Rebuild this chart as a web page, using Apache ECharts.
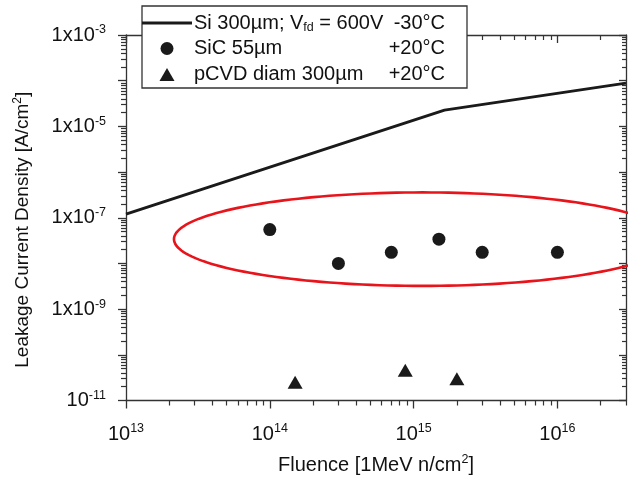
<!DOCTYPE html>
<html><head><meta charset="utf-8">
<script src="https://cdn.jsdelivr.net/npm/echarts@6/dist/echarts.min.js"></script>
<style>html,body{margin:0;padding:0;background:#fff}#c{width:628px;height:480px}</style>
</head><body><div id="c"></div>
<script>
// ---- data ----
const siFluence = [1e13, 1.64e15, 3e16];
const siCurrent = [1.2e-7, 2.27e-5, 8.85e-5];
const sicFluence = [1e14, 3e14, 7e14, 1.5e15, 3e15, 1e16];
const sicCurrent = [5.5e-8, 1.0e-8, 1.75e-8, 3.4e-8, 1.75e-8, 1.75e-8];
const diamFluence = [1.5e14, 8.75e14, 2e15];
const diamCurrent = [2.5e-11, 4.6e-11, 3.0e-11];
const seriesNames = ['Si 300µm; Vfd = 600V -30°C', 'SiC 55µm +20°C', 'pCVD diam 300µm +20°C'];
const xMajorTicks = [1e13, 1e14, 1e15, 1e16];
const xTickLabels = ['10{s|13}', '10{s|14}', '10{s|15}', '10{s|16}'];
const yMajorTicks = [1e-11, 1e-10, 1e-9, 1e-8, 1e-7, 1e-6, 1e-5, 1e-4, 1e-3];
const yLabelTicks = [1e-11, 1e-9, 1e-7, 1e-5, 1e-3];
const yTickLabels = ['10{s|-11}', '1x10{s|-9}', '1x10{s|-7}', '1x10{s|-5}', '1x10{s|-3}'];
const minorMultipliers = [2, 3, 4, 5, 6, 7, 8, 9];
// annotation ellipse (centre in data units, half-axes in decades)
const ellipseCenter = [1.155e15, 3.4e-8];
const ellipseHalfDecades = [1.729, 1.023];

const FONT = "'Liberation Sans', Arial, sans-serif";
const AX = '#333';
const FS = 20;

function minorValues(fromExp, toExp, maxVal) {
  const out = [];
  for (let e = fromExp; e < toExp; e++) {
    minorMultipliers.forEach(m => { const v = Number(m + 'e' + e); if (v <= maxVal) out.push(v); });
  }
  return out;
}
const xMinor = minorValues(13, 17, 3e16);
const yMinor = minorValues(-11, -3, 1e-3);

function labelFor(v, ticks, labels) {
  const e = Math.round(Math.log10(v));
  for (let i = 0; i < ticks.length; i++) if (Math.round(Math.log10(ticks[i])) === e) return labels[i];
  return '';
}

const supRich = { s: { fontSize: 12.5, fontFamily: FONT, color: '#111', verticalAlign: 'top', lineHeight: 12 } };

const baseX = { type: 'log', logBase: 10, min: 1e13, max: 3e16, gridIndex: 0, splitLine: { show: false } };
const baseY = { type: 'log', logBase: 10, min: 1e-11, max: 1e-3, gridIndex: 0, splitLine: { show: false } };

const chart = echarts.init(document.getElementById('c'), null, { renderer: 'canvas' });
chart.setOption({
  animation: false,
  backgroundColor: '#fff',
  grid: { left: 126, right: 2, top: 35, bottom: 74, containLabel: false },
  xAxis: [
    Object.assign({}, baseX, {
      position: 'bottom',
      axisLine: { show: true, lineStyle: { color: AX, width: 1.3 } },
      axisTick: { show: true, inside: false, length: 8, customValues: xMajorTicks, lineStyle: { color: AX, width: 1.3 } },
      axisLabel: { show: true, customValues: xMajorTicks, margin: 22, fontSize: FS, lineHeight: 23, fontFamily: FONT, color: '#111',
        formatter: v => labelFor(v, xMajorTicks, xTickLabels), rich: supRich },
      name: '{n|Fluence [1MeV n/cm}{s|2}{n|]}', nameLocation: 'middle', nameGap: 53,
      nameTextStyle: { rich: { n: { fontSize: FS, fontFamily: FONT, color: '#111', lineHeight: 23 }, s: supRich.s } }
    }),
    Object.assign({}, baseX, {
      position: 'top',
      axisLine: { show: true, lineStyle: { color: AX, width: 1.3 } },
      axisTick: { show: true, inside: true, length: 8, customValues: xMajorTicks, lineStyle: { color: AX, width: 1.3 } },
      axisLabel: { show: false }
    }),
    Object.assign({}, baseX, {
      position: 'bottom',
      axisLine: { show: false },
      axisTick: { show: true, inside: false, length: 5, customValues: xMinor, lineStyle: { color: AX, width: 1.2 } },
      axisLabel: { show: false }
    }),
    Object.assign({}, baseX, {
      position: 'top',
      axisLine: { show: false },
      axisTick: { show: true, inside: true, length: 5, customValues: xMinor, lineStyle: { color: AX, width: 1.2 } },
      axisLabel: { show: false }
    })
  ],
  yAxis: [
    Object.assign({}, baseY, {
      position: 'left',
      axisLine: { show: true, lineStyle: { color: AX, width: 1.3 } },
      axisTick: { show: true, inside: false, length: 8, customValues: yMajorTicks, lineStyle: { color: AX, width: 1.3 } },
      axisLabel: { show: true, customValues: yLabelTicks, margin: 20, fontSize: FS, lineHeight: 23, fontFamily: FONT, color: '#111',
        formatter: v => labelFor(v, yLabelTicks, yTickLabels), rich: supRich },
      name: '{n|Leakage Current Density [A/cm}{s|2}{n|]}', nameLocation: 'middle', nameGap: 92,
      nameTextStyle: { padding: [0, 24, 0, 0], rich: { n: { fontSize: 19, fontFamily: FONT, color: '#111', lineHeight: 22 }, s: { fontSize: 12, fontFamily: FONT, color: '#111', verticalAlign: 'top', lineHeight: 12 } } }
    }),
    Object.assign({}, baseY, {
      position: 'right',
      axisLine: { show: true, lineStyle: { color: AX, width: 1.3 } },
      axisTick: { show: true, inside: true, length: 7, customValues: yMajorTicks, lineStyle: { color: AX, width: 1.3 } },
      axisLabel: { show: false }
    }),
    Object.assign({}, baseY, {
      position: 'left',
      axisLine: { show: false },
      axisTick: { show: true, inside: false, length: 5, customValues: yMinor, lineStyle: { color: AX, width: 1.2 } },
      axisLabel: { show: false }
    }),
    Object.assign({}, baseY, {
      position: 'right',
      axisLine: { show: false },
      axisTick: { show: true, inside: true, length: 4, customValues: yMinor, lineStyle: { color: AX, width: 1.2 } },
      axisLabel: { show: false }
    })
  ],
  series: [
    { name: seriesNames[0], type: 'line', xAxisIndex: 0, yAxisIndex: 0, symbol: 'none',
      lineStyle: { color: '#1a1a1a', width: 3 }, data: siFluence.map((x, i) => [x, siCurrent[i]]), z: 3 },
    { name: seriesNames[1], type: 'scatter', xAxisIndex: 0, yAxisIndex: 0, symbol: 'circle', symbolSize: 13,
      itemStyle: { color: '#1a1a1a', opacity: 1 }, data: sicFluence.map((x, i) => [x, sicCurrent[i]]), z: 4 },
    { name: seriesNames[2], type: 'scatter', xAxisIndex: 0, yAxisIndex: 0, symbol: 'triangle', symbolSize: [15, 13],
      itemStyle: { color: '#1a1a1a', opacity: 1 }, data: diamFluence.map((x, i) => [x, diamCurrent[i]]), z: 4 }
  ]
});

// ---- annotation ellipse, positioned through the axes ----
const cPx = chart.convertToPixel({ gridIndex: 0 }, ellipseCenter);
const ex = chart.convertToPixel({ gridIndex: 0 }, [ellipseCenter[0] * Math.pow(10, ellipseHalfDecades[0]), ellipseCenter[1]]);
const ey = chart.convertToPixel({ gridIndex: 0 }, [ellipseCenter[0], ellipseCenter[1] * Math.pow(10, ellipseHalfDecades[1])]);
const ra = Math.abs(ex[0] - cPx[0]), rb = Math.abs(ey[1] - cPx[1]);
const ellPts = [];
for (let i = 0; i <= 180; i++) { const t = i / 180 * Math.PI * 2; ellPts.push([cPx[0] + ra * Math.cos(t), cPx[1] + rb * Math.sin(t)]); }

const legendText = { fontSize: FS, fontFamily: FONT, fill: '#111' };
chart.setOption({
  graphic: [
    { type: 'polyline', shape: { points: ellPts }, style: { stroke: '#e8141b', lineWidth: 2.6, fill: null }, z: 50, silent: true },
    { type: 'rect', shape: { x: 142, y: 6, width: 325, height: 82 }, style: { fill: '#fff', stroke: '#333', lineWidth: 1.3 }, z: 100 },
    { type: 'line', shape: { x1: 142, y1: 23, x2: 192, y2: 23 }, style: { stroke: '#1a1a1a', lineWidth: 3 }, z: 101 },
    { type: 'circle', shape: { cx: 167, cy: 48.5, r: 6.5 }, style: { fill: '#1a1a1a' }, z: 101 },
    { type: 'polygon', shape: { points: [[159.5, 81], [167, 68], [174.5, 81]] }, style: { fill: '#1a1a1a' }, z: 101 },
    { type: 'text', x: 194, y: 23, z: 101, style: Object.assign({}, legendText, {
        text: '{a|Si 300µm; V}{b|fd}{a| = 600V}', verticalAlign: 'middle', align: 'left',
        rich: { a: { fontSize: FS, fontFamily: FONT, lineHeight: 23 }, b: { fontSize: 12.5, fontFamily: FONT, lineHeight: 12, verticalAlign: 'bottom' } } }) },
    { type: 'text', x: 445, y: 23, z: 101, style: Object.assign({}, legendText, { text: '-30°C', verticalAlign: 'middle', align: 'right' }) },
    { type: 'text', x: 194, y: 48.5, z: 101, style: Object.assign({}, legendText, { text: 'SiC 55µm', verticalAlign: 'middle', align: 'left' }) },
    { type: 'text', x: 445, y: 48.5, z: 101, style: Object.assign({}, legendText, { text: '+20°C', verticalAlign: 'middle', align: 'right' }) },
    { type: 'text', x: 194, y: 74, z: 101, style: Object.assign({}, legendText, { text: 'pCVD diam 300µm', verticalAlign: 'middle', align: 'left' }) },
    { type: 'text', x: 445, y: 74, z: 101, style: Object.assign({}, legendText, { text: '+20°C', verticalAlign: 'middle', align: 'right' }) }
  ]
});
</script>
</body></html>
